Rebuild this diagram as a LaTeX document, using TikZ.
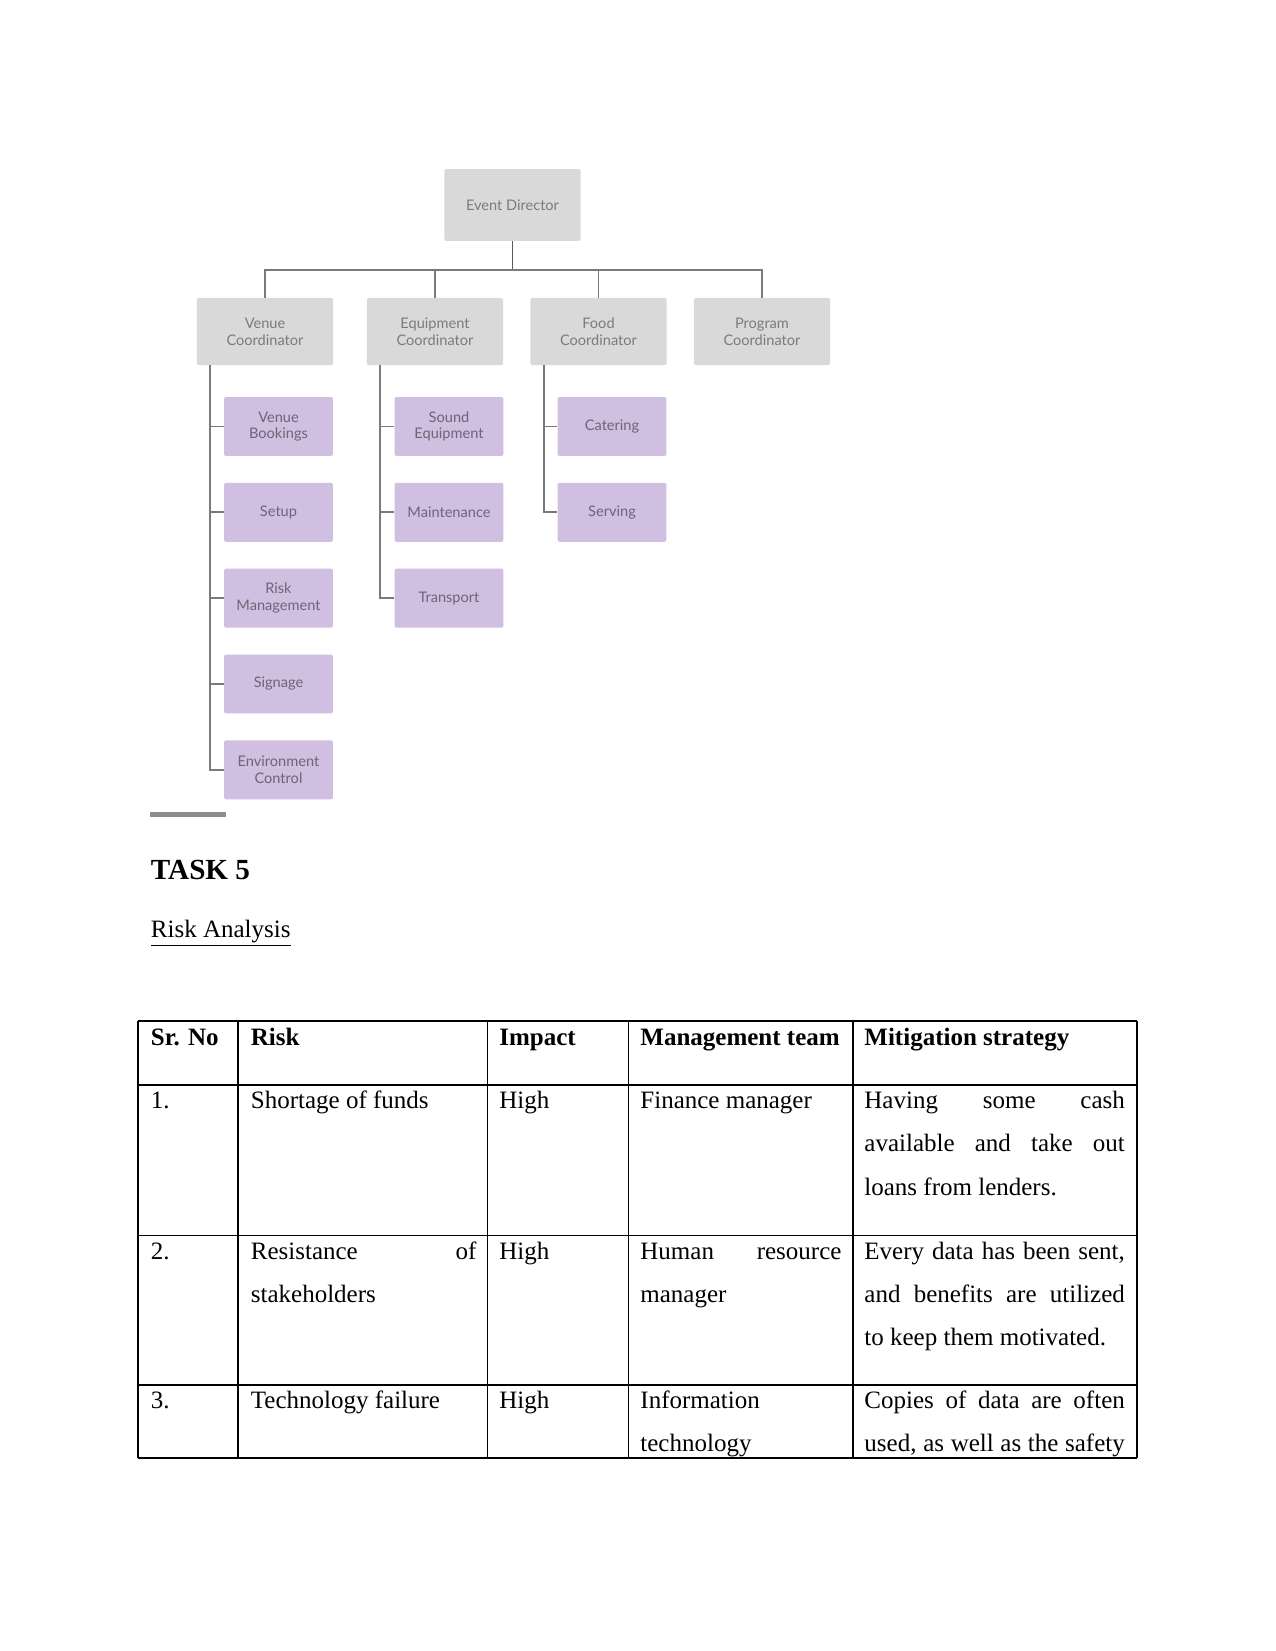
\documentclass[tikz,border=0pt]{standalone}
\usepackage{fontspec}
\setmainfont{Liberation Serif}
\newfontfamily\chartfont{Lato}
\usetikzlibrary{positioning}
\definecolor{boxgrey}{HTML}{D9D9D9}
\definecolor{boxlilac}{HTML}{D0BFE0}
\definecolor{textgrey}{HTML}{7B7B7B}
\definecolor{textlilac}{HTML}{6E6478}
\definecolor{linegrey}{HTML}{7A7A7A}
\newcommand{\spread}[2]{\makebox[#1][s]{#2}}
\begin{document}
\begin{tikzpicture}[
  x=0.48pt, y=-0.48pt,
  node distance=12.5pt,
  chart/.style={align=center, inner sep=0, font=\chartfont\fontsize{7}{8}\selectfont},
  headbox/.style={chart, fill=boxgrey, text=textgrey, rounded corners=1pt,
                  minimum width=65.5pt, minimum height=32.2pt},
  subbox/.style={chart, fill=boxlilac, text=textlilac, rounded corners=1pt,
                 minimum width=52.3pt, minimum height=28.3pt},
  link/.style={linegrey, line width=0.9pt},
  cell/.style={anchor=base west, inner sep=0, font=\fontsize{12}{14}\selectfont},
  headcell/.style={cell, font=\bfseries\fontsize{12}{14}\selectfont},
  tabline/.style={line width=0.6pt}
]
\useasboundingbox (0,0) rectangle (1275,1651);

% org chart
\node[headbox, minimum height=34.5pt] (director) at (512.5,205) {Event Director};
\node[headbox] (venue) at (265,331.5) {Venue\\Coordinator};
\node[headbox] (equip) at (435,331.5) {Equipment\\Coordinator};
\node[headbox] (food) at (598.5,331.5) {Food\\Coordinator};
\node[headbox] (program) at (762,331.5) {Program\\Coordinator};

\node[subbox] (bookings) at (278.5,426.5) {Venue\\Bookings};
\node[subbox, below=of bookings] (setup) {Setup};
\node[subbox, below=of setup] (risk) {Risk\\Management};
\node[subbox, below=of risk] (signage) {Signage};
\node[subbox, below=of signage] (envctrl) {Environment\\Control};

\node[subbox] (sound) at (449,426.5) {Sound\\Equipment};
\node[subbox, below=of sound] (maint) {Maintenance};
\node[subbox, below=of maint] (transport) {Transport};

\node[subbox] (catering) at (612,426.5) {Catering};
\node[subbox, below=of catering] (serving) {Serving};

\draw[link, black!65] (director.south) -- ++(0,28.5) coordinate (hub);
\foreach \n in {venue,equip,food,program}
  \draw[link] (hub) -| (\n.north);

\coordinate (vtrunk) at ([xshift=6.7pt]venue.south west);
\coordinate (etrunk) at ([xshift=6.7pt]equip.south west);
\coordinate (ftrunk) at ([xshift=6.7pt]food.south west);
\draw[link] (vtrunk) |- (envctrl.west);
\draw[link] (etrunk) |- (transport.west);
\draw[link] (ftrunk) |- (serving.west);
\foreach \n in {bookings,setup,risk,signage}
  \draw[link] (vtrunk |- \n.west) -- (\n.west);
\foreach \n in {sound,maint}
  \draw[link] (etrunk |- \n.west) -- (\n.west);
\draw[link] (ftrunk |- catering.west) -- (catering.west);

\fill[black!45] (149.5,812) rectangle (226,817);

% headings
\node[anchor=base west, inner sep=0, font=\bfseries\fontsize{14}{17}\selectfont] (task) at (150.5,879) {TASK 5};
\node[cell] (heading) at (150.5,937) {\underline{Risk Analysis}};

% table rules
\foreach \y in {1021,1085,1235.5,1385,1458}
  \draw[tabline] (138,\y) -- (1137,\y);
\foreach \x in {138,238,487.5,628.5,853,1137}
  \draw[tabline] (\x,1021) -- (\x,1458);

% header row
\node[headcell] (hno) at (150.5,1045.7) {Sr. No};
\node[headcell] (hrisk) at (250.5,1045.7) {Risk};
\node[headcell] (himpact) at (499,1045.7) {Impact};
\node[headcell] (hteam) at (640,1045.7) {Management team};
\node[headcell] (hmitig) at (864,1045.7) {Mitigation strategy};

% row 1
\node[cell] (no1) at (150.5,1108.4) {1.};
\node[cell] (risk1) at (250.5,1108.4) {Shortage of funds};
\node[cell] (impact1) at (499,1108.4) {High};
\node[cell] (team1) at (640,1108.4) {Finance manager};
\node[cell] (mitig1a) at (864,1108.4) {\spread{125pt}{Having some cash}};
\node[cell] (mitig1b) at (864,1151.7) {\spread{125pt}{available and take out}};
\node[cell] (mitig1c) at (864,1195) {loans from lenders.};

% row 2
\node[cell] (no2) at (150.5,1259) {2.};
\node[cell] (risk2a) at (250.5,1259) {\spread{108.2pt}{Resistance of}};
\node[cell] (risk2b) at (250.5,1302.3) {stakeholders};
\node[cell] (impact2) at (499,1259) {High};
\node[cell] (team2a) at (640,1259) {\spread{96.5pt}{Human resource}};
\node[cell] (team2b) at (640,1302.3) {manager};
\node[cell] (mitig2a) at (864,1259) {\spread{125pt}{Every data has been sent,}};
\node[cell] (mitig2b) at (864,1302.3) {\spread{125pt}{and benefits are utilized}};
\node[cell] (mitig2c) at (864,1345.6) {to keep them motivated.};

% row 3
\node[cell] (no3) at (150.5,1408.4) {3.};
\node[cell] (risk3) at (250.5,1408.4) {Technology failure};
\node[cell] (impact3) at (499,1408.4) {High};
\node[cell] (team3a) at (640,1408.4) {Information};
\node[cell] (team3b) at (640,1451.7) {technology};
\node[cell] (mitig3a) at (864,1408.4) {\spread{125pt}{Copies of data are often}};
\node[cell] (mitig3b) at (864,1451.7) {\spread{125pt}{used, as well as the safety}};
\end{tikzpicture}
\end{document}
